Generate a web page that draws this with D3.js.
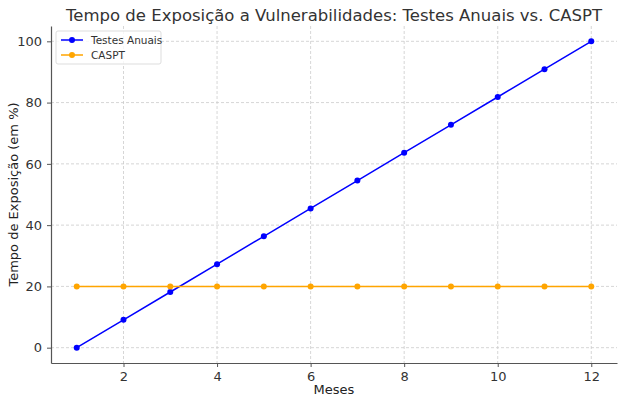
<!DOCTYPE html>
<html>
<head>
<meta charset="utf-8">
<script src="https://cdn.jsdelivr.net/npm/d3@7"></script>
<style>
  body { margin: 0; background: #fff; }
  svg text { font-family: "DejaVu Sans", sans-serif; }
</style>
</head>
<body>
<div id="grafico"></div>
<script>
// Dados
const meses = [1, 2, 3, 4, 5, 6, 7, 8, 9, 10, 11, 12];
const testesAnuais = [0, 9.09, 18.18, 27.27, 36.36, 45.45, 54.55, 63.64, 72.73, 81.82, 90.91, 100];
const caspt = [20, 20, 20, 20, 20, 20, 20, 20, 20, 20, 20, 20];
const ticksX = [2, 4, 6, 8, 10, 12];
const ticksY = [0, 20, 40, 60, 80, 100];

const largura = 624, altura = 403;
const margem = { top: 26, right: 7, bottom: 40, left: 51 };

const svg = d3.select("#grafico")
    .append("svg")
    .attr("width", largura)
    .attr("height", altura);

const x = d3.scaleLinear()
    .domain([0.45, 12.55])
    .range([margem.left, largura - margem.right]);

const y = d3.scaleLinear()
    .domain([-5, 105])
    .range([altura - margem.bottom, margem.top]);

// grade
svg.append("g")
    .selectAll("line")
    .data(ticksX)
    .join("line")
    .attr("x1", d => x(d)).attr("x2", d => x(d))
    .attr("y1", margem.top).attr("y2", altura - margem.bottom)
    .attr("stroke", "#cccccc")
    .attr("stroke-width", 0.8)
    .attr("stroke-dasharray", "3,2");

svg.append("g")
    .selectAll("line")
    .data(ticksY)
    .join("line")
    .attr("x1", margem.left).attr("x2", largura - margem.right)
    .attr("y1", d => y(d)).attr("y2", d => y(d))
    .attr("stroke", "#cccccc")
    .attr("stroke-width", 0.8)
    .attr("stroke-dasharray", "3,2");

// eixos
const eixoX = svg.append("g")
    .attr("transform", `translate(0,${altura - margem.bottom})`)
    .call(d3.axisBottom(x).tickValues(ticksX).tickSize(4).tickSizeOuter(0).tickPadding(5));

const eixoY = svg.append("g")
    .attr("transform", `translate(${margem.left},0)`)
    .call(d3.axisLeft(y).tickValues(ticksY).tickSize(4).tickSizeOuter(0).tickPadding(5));

[eixoX, eixoY].forEach(eixo => {
    eixo.select(".domain").attr("stroke", "#555555").attr("stroke-width", 1.2);
    eixo.selectAll(".tick line").attr("stroke", "#555555");
    eixo.selectAll(".tick text")
        .attr("fill", "#333333")
        .attr("font-size", 13);
});

// linhas
const linha = valores => d3.line()
    .x((d, i) => x(meses[i]))
    .y(d => y(d))(valores);

const series = [
    { nome: "Testes Anuais", valores: testesAnuais, cor: "#0000ff" },
    { nome: "CASPT", valores: caspt, cor: "#ffa500" }
];

series.forEach(s => {
    svg.append("path")
        .attr("d", linha(s.valores))
        .attr("fill", "none")
        .attr("stroke", s.cor)
        .attr("stroke-width", 1.5);
    svg.append("g")
        .selectAll("circle")
        .data(s.valores)
        .join("circle")
        .attr("cx", (d, i) => x(meses[i]))
        .attr("cy", d => y(d))
        .attr("r", 3)
        .attr("fill", s.cor);
});

// título e rótulos
svg.append("text")
    .attr("x", (margem.left + largura - margem.right) / 2)
    .attr("y", 21)
    .attr("text-anchor", "middle")
    .attr("font-size", 16.5)
    .attr("fill", "#333333")
    .text("Tempo de Exposição a Vulnerabilidades: Testes Anuais vs. CASPT");

svg.append("text")
    .attr("x", (margem.left + largura - margem.right) / 2)
    .attr("y", 394)
    .attr("text-anchor", "middle")
    .attr("font-size", 13)
    .attr("fill", "#222222")
    .text("Meses");

svg.append("text")
    .attr("transform", `translate(18,${(margem.top + altura - margem.bottom) / 2}) rotate(-90)`)
    .attr("text-anchor", "middle")
    .attr("font-size", 13)
    .attr("fill", "#222222")
    .text("Tempo de Exposição (em %)");

// legenda
const legenda = svg.append("g")
    .attr("transform", "translate(56,31)");

legenda.append("rect")
    .attr("width", 105)
    .attr("height", 33)
    .attr("rx", 2)
    .attr("fill", "#ffffff")
    .attr("fill-opacity", 0.8)
    .attr("stroke", "#dddddd");

series.forEach((s, i) => {
    const g = legenda.append("g")
        .attr("transform", `translate(5,${9 + i * 15})`);
    g.append("line")
        .attr("x1", 0).attr("x2", 22)
        .attr("stroke", s.cor)
        .attr("stroke-width", 1.5);
    g.append("circle")
        .attr("cx", 11)
        .attr("r", 3)
        .attr("fill", s.cor);
    g.append("text")
        .attr("x", 30)
        .attr("dy", "0.35em")
        .attr("font-size", 10.5)
        .attr("fill", "#333333")
        .text(s.nome);
});
</script>
</body>
</html>
